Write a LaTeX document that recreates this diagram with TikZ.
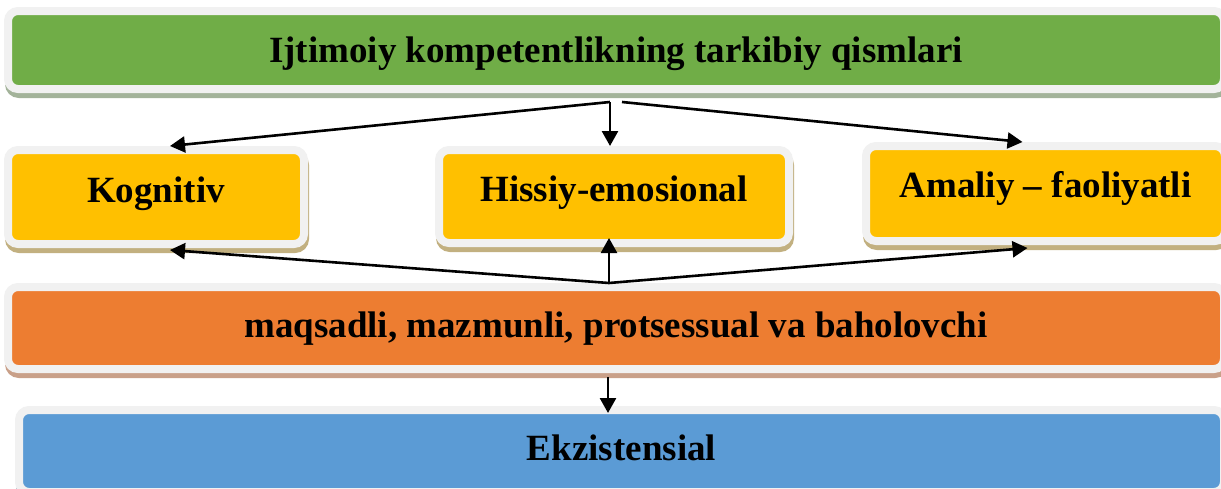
\documentclass[tikz,border=0pt]{standalone}
\usepackage{fontspec}
\setmainfont{Liberation Serif}
\usetikzlibrary{arrows.meta}
\definecolor{cgreen}{HTML}{70AD47}
\definecolor{cyellow}{HTML}{FFC000}
\definecolor{corange}{HTML}{ED7D31}
\definecolor{cblue}{HTML}{5B9BD5}
\definecolor{cframe}{HTML}{F1F1F1}
\definecolor{sgreen}{HTML}{A3B39A}
\definecolor{syellow}{HTML}{C2B080}
\definecolor{sorange}{HTML}{C9A089}
\definecolor{sblue}{HTML}{9DB3C9}
\begin{document}
\begin{tikzpicture}[x=1pt,y=-1pt,
  box/.style={rounded corners=10pt, draw=cframe, line width=8pt, inner sep=0pt,
    font=\bfseries\fontsize{37}{41}\selectfont, text height=22pt, text depth=12pt},
  shad/.style={preaction={draw=#1, fill=#1, transform canvas={xshift=1pt,yshift=-5pt}}},
  arr/.style={line width=2.6pt, -{Triangle[length=15pt,width=16pt]}}]
\useasboundingbox (0,0) rectangle (1221,488);
\node[box, shad=sgreen, fill=cgreen, minimum width=1216pt, minimum height=78pt,
  text height=30pt, text depth=6pt] (top) at (616,50) {Ijtimoiy kompetentlikning tarkibiy qismlari};
\node[box, shad=syellow, fill=cyellow, minimum width=296pt, minimum height=94pt] (kog) at (156,197) {Kognitiv};
\node[box, shad=syellow, fill=cyellow, minimum width=350pt, minimum height=93pt] (his) at (614,196.5) {Hissiy-emosional};
\node[box, shad=syellow, fill=cyellow, minimum width=359pt, minimum height=95pt,
  text height=20pt, text depth=13pt] (ama) at (1045.5,193.5) {Amaliy -- faoliyatli};
\node[box, shad=sorange, fill=corange, minimum width=1216pt, minimum height=82pt,
  text height=27pt, text depth=9pt] (mq) at (616,328) {maqsadli, mazmunli, protsessual va baholovchi};
\node[box, shad=sblue, fill=cblue, minimum width=1205pt, minimum height=82pt,
  text height=27pt, text depth=9pt] (ekz) at (621.5,451) {Ekzistensial};
\coordinate (t1) at (610,102);
\coordinate (t2) at (622,102);
\coordinate (b1) at (609,283);
\draw[arr] (t1) -- ([xshift=14pt]kog.north);
\draw[arr] (t1) -- (t1 |- his.north);
\draw[arr] (t2) -- ([xshift=-23pt,yshift=0pt]ama.north);
\draw[arr] (b1) -- ([xshift=14pt,yshift=-2pt]kog.south);
\draw[arr] (b1) -- ([yshift=9pt]b1 |- his.south);
\draw[arr] (b1) -- ([xshift=-18pt,yshift=-3pt]ama.south);
\draw[arr] ([yshift=-4pt]mq.south -| 608,0) -- ([yshift=-7pt]ekz.north -| 608,0);
\end{tikzpicture}
\end{document}
